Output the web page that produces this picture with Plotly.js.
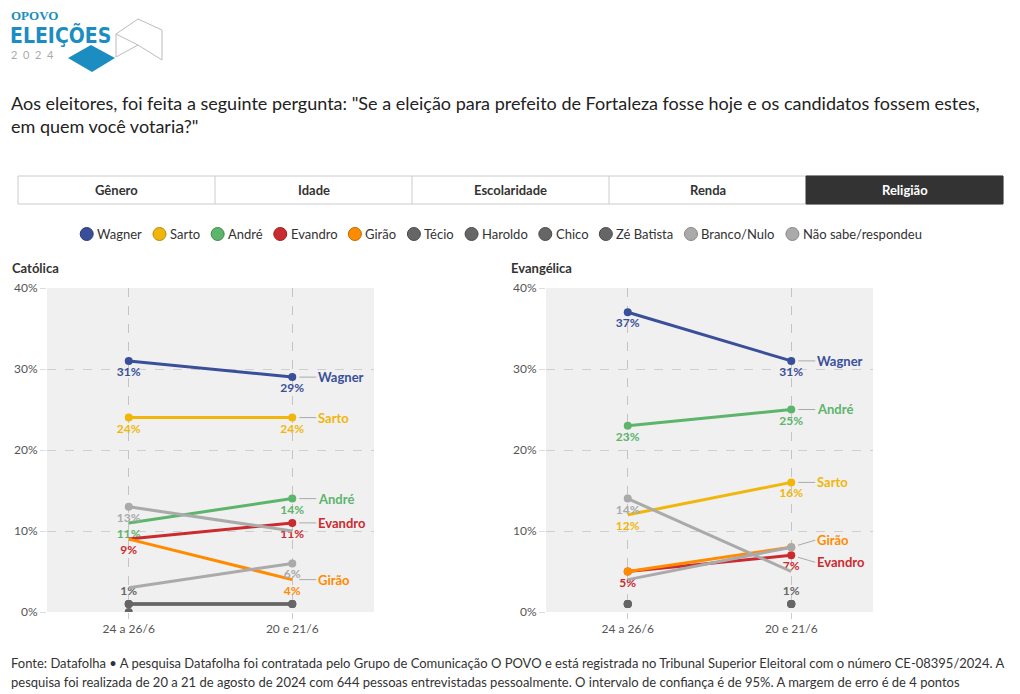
<!DOCTYPE html>
<html>
<head>
<meta charset="utf-8">
<script src="https://cdn.plot.ly/plotly-3.0.1.min.js"></script>
<style>
html,body{margin:0;padding:0;background:#fff;}
#chart{width:1020px;height:694px;}
</style>
</head>
<body>
<div id="chart"></div>
<script>
// ---------------- DATA ----------------
const dates = ['24 a 26/6', '20 e 21/6'];
const candidates = ['Wagner','Sarto','André','Evandro','Girão','Técio','Haroldo','Chico','Zé Batista','Branco/Nulo','Não sabe/respondeu'];
const panels = ['Católica', 'Evangélica'];

// Católica
const catWagner = [31, 29];
const catSarto = [24, 24];
const catAndre = [11, 14];
const catEvandro = [9, 11];
const catGirao = [9, 4];
const catTecio = [1, 1];
const catHaroldo = [0, null];
const catChico = [1, 1];
const catZe = [1, 1];
const catBranco = [13, 10];
const catNaoSabe = [3, 6];

// Evangélica
const evWagner = [37, 31];
const evSarto = [12, 16];
const evAndre = [23, 25];
const evEvandro = [5, 7];
const evGirao = [5, 8];
const evTecio = [1, 1];
const evHaroldo = [1, 1];
const evChico = [1, 1];
const evZe = [1, 1];
const evBranco = [14, 5];
const evNaoSabe = [4, 8];

// labels shown next to each point ('' = hidden)
const catLabels = [['31%','29%'],['24%','24%'],['11%','14%'],['9%','11%'],['','4%'],['1%',''],['',''],['',''],['',''],['13%',''],['','6%']];
const evLabels  = [['37%','31%'],['12%','16%'],['23%','25%'],['5%','7%'],['',''],['','1%'],['',''],['',''],['',''],['14%',''],['','']];

// series named at the right end of each panel
const catNamed = ['Wagner','Sarto','André','Evandro','Girão'];
const evNamed  = ['Wagner','André','Sarto','Girão','Evandro'];

const questionText = 'Aos eleitores, foi feita a seguinte pergunta: "Se a eleição para prefeito de Fortaleza fosse hoje e os candidatos fossem estes,<br>em quem você votaria?"';
const tabs = ['Gênero','Idade','Escolaridade','Renda','Religião'];
const footer1 = 'Fonte: Datafolha • A pesquisa Datafolha foi contratada pelo Grupo de Comunicação O POVO e está registrada no Tribunal Superior Eleitoral com o número CE-08395/2024. A';
const footer2 = 'pesquisa foi realizada de 20 a 21 de agosto de 2024 com 644 pessoas entrevistadas pessoalmente. O intervalo de confiança é de 95%. A margem de erro é de 4 pontos';

// ---------------- STYLE ----------------
const colors = ['#394f9a','#f0b70a','#5db46b','#cb2a2e','#ff8b00','#666666','#666666','#666666','#666666','#aaaaaa','#aaaaaa'];
const legendOutline = ['#2a3a75','#b58a08','#3f8a4c','#961f22','#c06800','#4a4a4a','#4a4a4a','#4a4a4a','#4a4a4a','#888888','#888888'];
const FONT = 'Lato, "Noto Sans", sans-serif';
const W = 1020, H = 694;
const xp = x => x / W;
const yp = y => 1 - y / H;

// markers not drawn (candidate, point index) per panel
const hiddenMarkers = {
  'Católica': [['André',0],['Evandro',0],['Girão',0],['Girão',1],['Branco/Nulo',1],['Não sabe/respondeu',0]],
  'Evangélica': [['Sarto',0],['Não sabe/respondeu',0],['Branco/Nulo',1]]
};
const noLine = { 'Evangélica': ['Técio','Haroldo','Chico','Zé Batista'] };

const catSeries = [catWagner,catSarto,catAndre,catEvandro,catGirao,catTecio,catHaroldo,catChico,catZe,catBranco,catNaoSabe];
const evSeries  = [evWagner,evSarto,evAndre,evEvandro,evGirao,evTecio,evHaroldo,evChico,evZe,evBranco,evNaoSabe];

const traces = [];
function addPanel(series, labels, xa, ya, panel) {
  series.forEach((vals, i) => {
    const name = candidates[i];
    const topLabel = (name === 'Técio');
    const lineless = (noLine[panel] || []).includes(name);
    const op = vals.map((v, k) => (hiddenMarkers[panel] || []).some(h => h[0] === name && h[1] === k) ? 0 : 1);
    traces.push({
      type: 'scatter',
      x: dates, y: vals,
      xaxis: xa, yaxis: ya,
      name: name,
      showlegend: false,
      mode: lineless ? 'markers+text' : 'lines+markers+text',
      line: { color: colors[i], width: 3 },
      marker: { color: colors[i], size: 8, opacity: op },
      text: labels[i],
      textposition: topLabel ? 'top center' : 'bottom center',
      textfont: { family: FONT, size: 12, color: colors[i], weight: 'bold' },
      hoverinfo: 'skip'
    });
  });
}
addPanel(catSeries, catLabels, 'x', 'y', 'Católica');
addPanel(evSeries, evLabels, 'x2', 'y2', 'Evangélica');

// ---------------- LAYOUT ----------------
const plotTop = 288, plotBottom = 612;
const leftDom = [xp(47), xp(374)];
const rightDom = [xp(546), xp(873)];
const yDom = [yp(plotBottom), yp(plotTop)];

function xAxis(dom, anchor) {
  return {
    domain: dom, anchor: anchor, type: 'category', range: [-0.5, 1.5],
    showgrid: true, gridcolor: '#c4c4c4', griddash: 'dash', gridwidth: 1,
    ticks: 'outside', ticklen: 6, tickcolor: '#cccccc',
    tickfont: { family: FONT, size: 12, color: '#555' },
    zeroline: false, showline: false, fixedrange: true
  };
}
function yAxis(anchor) {
  return {
    domain: yDom, anchor: anchor, range: [0, 40], tickmode: 'linear', tick0: 0, dtick: 10,
    ticksuffix: '%', showticksuffix: 'all',
    showgrid: true, gridcolor: '#cfcfcf', griddash: 'dash', gridwidth: 1,
    ticks: 'outside', ticklen: 6, tickcolor: '#dddddd',
    tickfont: { family: FONT, size: 12, color: '#555' },
    zeroline: false, showline: false, fixedrange: true
  };
}

const annotations = [];
const shapes = [];

// Logo
annotations.push({ xref:'paper', yref:'paper', x: xp(9), y: yp(16), xanchor:'left', yanchor:'middle', showarrow:false,
  text:'<b>OPOVO</b>', font:{ family:'"Liberation Serif", serif', size:13, color:'#1b8dc0' } });
annotations.push({ xref:'paper', yref:'paper', x: xp(8), y: yp(35), xanchor:'left', yanchor:'middle', showarrow:false,
  text:'<b>ELEIÇÕES</b>', font:{ family:'"Liberation Sans Narrow", "DejaVu Sans Condensed", "Roboto", sans-serif', size:21, color:'#1b8dc0' } });
annotations.push({ xref:'paper', yref:'paper', x: xp(9), y: yp(54), xanchor:'left', yanchor:'middle', showarrow:false,
  text:'2&nbsp;&nbsp;0&nbsp;&nbsp;2&nbsp;&nbsp;4', font:{ family:FONT, size:11, color:'#aaaaaa' } });
shapes.push({ type:'path', xref:'paper', yref:'paper', layer:'above',
  path: `M ${xp(68)} ${yp(58)} L ${xp(91)} ${yp(45)} L ${xp(115)} ${yp(58)} L ${xp(92)} ${yp(72)} Z`,
  fillcolor:'#1b8dc0', line:{ width:0 } });
shapes.push({ type:'path', xref:'paper', yref:'paper', layer:'above',
  path: `M ${xp(116)} ${yp(34)} L ${xp(138)} ${yp(19)} L ${xp(162)} ${yp(30)} L ${xp(162)} ${yp(60)} L ${xp(138)} ${yp(45)} Z M ${xp(116)} ${yp(34)} L ${xp(116)} ${yp(57)} L ${xp(138)} ${yp(45)}`,
  fillcolor:'rgba(0,0,0,0)', line:{ width:1, color:'#bbbbbb' } });

// Question
annotations.push({ xref:'paper', yref:'paper', x: xp(9), y: yp(90), xanchor:'left', yanchor:'top', align:'left', showarrow:false,
  text: questionText, font:{ family:FONT, size:18, color:'#222' } });

// Tabs
const tabL = 18, tabR = 1003, tabT = 176, tabB = 204;
const tabW = (tabR - tabL) / tabs.length;
shapes.push({ type:'rect', xref:'paper', yref:'paper', x0:xp(tabL), x1:xp(tabR), y0:yp(tabB), y1:yp(tabT),
  line:{ color:'#cccccc', width:1 }, fillcolor:'#ffffff', layer:'below' });
tabs.forEach((t, i) => {
  const x0 = tabL + i * tabW, x1 = x0 + tabW;
  const active = (i === tabs.length - 1);
  if (active) {
    shapes.push({ type:'rect', xref:'paper', yref:'paper', x0:xp(x0), x1:xp(x1), y0:yp(tabB), y1:yp(tabT),
      line:{ color:'#333333', width:1 }, fillcolor:'#333333', layer:'below' });
  } else if (i > 0) {
    shapes.push({ type:'line', xref:'paper', yref:'paper', x0:xp(x0), x1:xp(x0), y0:yp(tabB), y1:yp(tabT),
      line:{ color:'#cccccc', width:1 } });
  }
  annotations.push({ xref:'paper', yref:'paper', x: xp((x0 + x1) / 2), y: yp((tabT + tabB) / 2), showarrow:false,
    xanchor:'center', yanchor:'middle', text:'<b>' + t + '</b>',
    font:{ family:FONT, size:13, color: active ? '#ffffff' : '#333333' } });
});

// Legend (manual, measured)
const cv = document.createElement('canvas').getContext('2d');
cv.font = '13px Lato';
const dotD = 13, dotGap = 4, itemGap = 11;
const widths = candidates.map(c => dotD + dotGap + cv.measureText(c).width);
const totalW = widths.reduce((a, b) => a + b, 0) + itemGap * (candidates.length - 1);
let lx = 501 - totalW / 2;
const legY = 234;
candidates.forEach((c, i) => {
  shapes.push({ type:'circle', xref:'paper', yref:'paper',
    x0: xp(lx), x1: xp(lx + dotD), y0: yp(legY + dotD / 2), y1: yp(legY - dotD / 2),
    fillcolor: colors[i], line:{ color: legendOutline[i], width: 1 } });
  annotations.push({ xref:'paper', yref:'paper', x: xp(lx + dotD + dotGap - 1), y: yp(legY), xanchor:'left', yanchor:'middle',
    showarrow:false, text: c, font:{ family:FONT, size:13, color:'#333' }, borderpad:0 });
  lx += widths[i] + itemGap;
});

// Panel titles
annotations.push({ xref:'paper', yref:'paper', x: xp(10), y: yp(268), xanchor:'left', yanchor:'middle', showarrow:false,
  text:'<b>' + panels[0] + '</b>', font:{ family:FONT, size:13, color:'#333' } });
annotations.push({ xref:'paper', yref:'paper', x: xp(509), y: yp(268), xanchor:'left', yanchor:'middle', showarrow:false,
  text:'<b>' + panels[1] + '</b>', font:{ family:FONT, size:13, color:'#333' } });

// Name labels at the right end of lines
const evOffsets = { 'Girão': -7, 'Evandro': 7 };
function nameLabels(series, named, xa, ya, offsets) {
  named.forEach(n => {
    const i = candidates.indexOf(n);
    annotations.push({ xref: xa, yref: ya, x: dates[1], y: series[i][1],
      text: '<b>' + n + '</b>', showarrow: true, arrowhead: 0, arrowwidth: 1, arrowcolor: '#aaaaaa',
      ax: 24, ay: (offsets && offsets[n]) || 0, xanchor: 'left', yanchor: 'middle', standoff: 7,
      font: { family: FONT, size: 13, color: colors[i] } });
  });
}
nameLabels(catSeries, catNamed, 'x', 'y', null);
nameLabels(evSeries, evNamed, 'x2', 'y2', evOffsets);

// Footer
annotations.push({ xref:'paper', yref:'paper', x: xp(9), y: yp(663), xanchor:'left', yanchor:'middle', showarrow:false,
  text: footer1, font:{ family:FONT, size:13, color:'#333' } });
annotations.push({ xref:'paper', yref:'paper', x: xp(9), y: yp(682), xanchor:'left', yanchor:'middle', showarrow:false,
  text: footer2, font:{ family:FONT, size:13, color:'#333' } });

const layout = {
  width: W, height: H,
  margin: { l:0, r:0, t:0, b:0 },
  paper_bgcolor: '#ffffff',
  plot_bgcolor: '#f0f0f0',
  showlegend: false,
  font: { family: FONT, color: '#333' },
  xaxis: xAxis(leftDom, 'y'),
  yaxis: yAxis('x'),
  xaxis2: xAxis(rightDom, 'y2'),
  yaxis2: yAxis('x2'),
  annotations: annotations,
  shapes: shapes
};

Plotly.newPlot('chart', traces, layout, { displayModeBar: false, staticPlot: true });
</script>
</body>
</html>
